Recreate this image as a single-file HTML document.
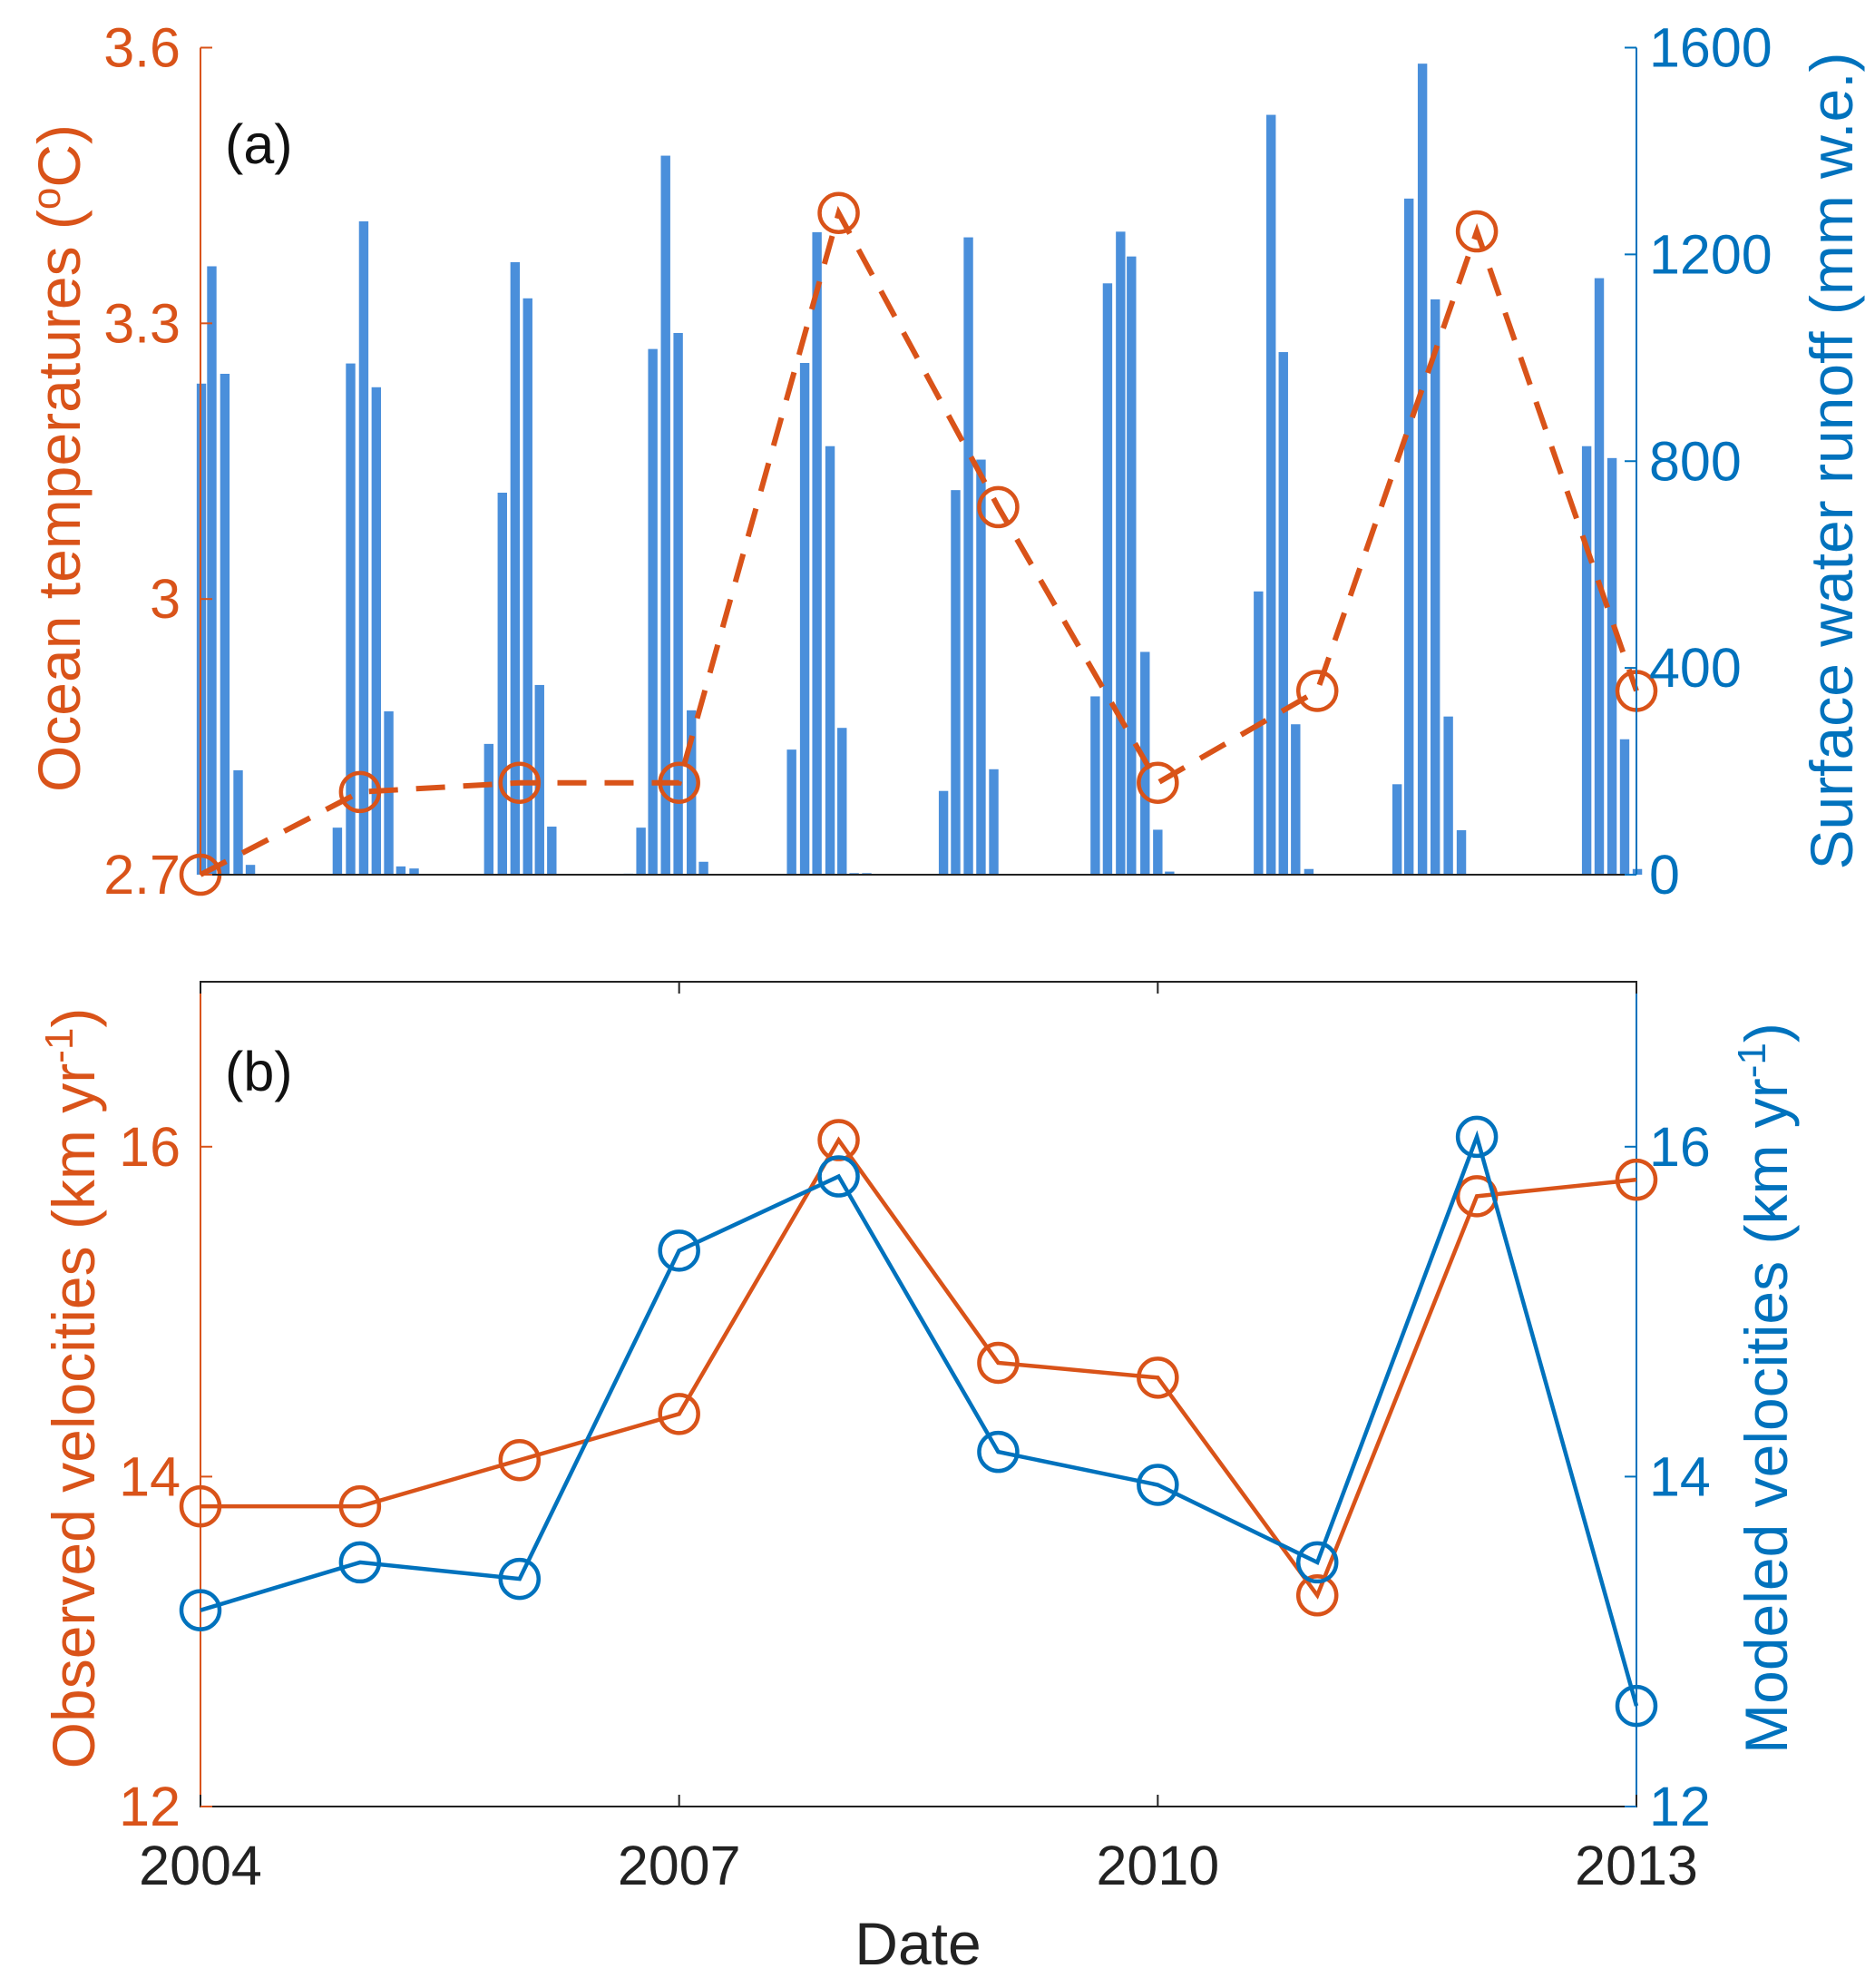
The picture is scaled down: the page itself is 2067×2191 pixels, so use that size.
<!DOCTYPE html>
<html><head><meta charset="utf-8"><style>
html,body{margin:0;padding:0;background:#fff;}
svg{display:block;font-family:"Liberation Sans",Arial,sans-serif;}
</style></head><body>
<svg id="chart" width="2067" height="2191" viewBox="0 0 2067 2191" xmlns="http://www.w3.org/2000/svg">
<g id="gtop"></g>
<g id="gbot"></g>
</svg>
<script>
const years = [2004,2005,2006,2007,2008,2009,2010,2011,2012,2013];
const oceanTemp = [2.70,2.79,2.80,2.80,3.42,3.10,2.80,2.90,3.40,2.90];
const runoffDates = [2004.006,2004.071,2004.153,2004.236,2004.313,
 2004.858,2004.941,2005.023,2005.102,2005.180,2005.256,2005.339,
 2005.807,2005.892,2005.972,2006.051,2006.125,2006.202,
 2006.682,2006.761,2006.835,2006.915,2006.994,2007.077,2007.153,
 2007.705,2007.787,2007.864,2007.946,2008.021,2008.097,2008.176,
 2008.657,2008.733,2008.813,2008.892,2008.972,
 2009.608,2009.685,2009.767,2009.835,2009.920,2010.000,2010.074,
 2010.631,2010.710,2010.787,2010.864,2010.947,
 2011.500,2011.574,2011.659,2011.739,2011.821,2011.903,
 2012.688,2012.767,2012.847,2012.926,2013.006];
const runoffValues = [950,1177,969,202,19,
 91,989,1264,943,316,16,12,
 253,739,1185,1115,367,93,
 2,91,1017,1391,1048,318,25,
 242,990,1243,829,284,3,3,
 162,744,1233,803,204,
 345,1144,1244,1196,431,87,6,
 548,1470,1011,291,11,
 175,1308,1569,1113,306,86,
 829,1154,806,262,11];
const observedVel = [13.82,13.82,14.10,14.38,16.04,14.69,14.60,13.28,15.70,15.80];
const modeledVel = [13.19,13.48,13.38,15.37,15.82,14.15,13.95,13.48,16.06,12.61];
const tempTicks = [2.7,3,3.3,3.6];
const tempTickLabels = ["2.7","3","3.3","3.6"];
const runoffTicks = [0,400,800,1200,1600];
const velTicks = [12,14,16];
const xTicks = [2004,2007,2010,2013];

const NS="http://www.w3.org/2000/svg";
const ORANGE="#D95319", BLUE="#0072BD", BAR="#4A8FDB";
const FS=61, TFS=66;
const L=221, R=1804;
const xS = y => L + (y-2004)/(2013-2004)*(R-L);
const A = {t:52.5, b:964};
const B = {t:1082, b:1991};
const tS = v => A.b - (v-2.7)/(3.6-2.7)*(A.b-A.t);
const rS = v => A.b - v/1600*(A.b-A.t);
const vS = v => B.b - (v-12)/(17-12)*(B.b-B.t);

function mk(parent, tag, attrs, text){
  const e=document.createElementNS(NS,tag);
  for(const k in attrs) e.setAttribute(k,attrs[k]);
  if(text!==undefined) e.textContent=text;
  parent.appendChild(e); return e;
}
const gTop=document.getElementById('gtop'), gBot=document.getElementById('gbot');

runoffDates.forEach((d,i)=>{
  const y=rS(runoffValues[i]);
  const b=mk(gTop,'rect',{x:xS(d)-5.2,y:y,width:10.4,height:A.b-y,fill:BAR});
  
  
});
const tpts=years.map((y,i)=>xS(y)+','+tS(oceanTemp[i])).join(' ');
const tl=mk(gTop,'polyline',{points:tpts,fill:'none',stroke:ORANGE,'stroke-width':6,'stroke-dasharray':'32 20'});


years.forEach((y,i)=>{
  const c=mk(gTop,'circle',{cx:xS(y),cy:tS(oceanTemp[i]),r:21,fill:'none',stroke:ORANGE,'stroke-width':4.5});
  
  
});
mk(gTop,'line',{x1:L,y1:A.t,x2:L,y2:A.b,stroke:ORANGE,'stroke-width':2});
mk(gTop,'line',{x1:R,y1:A.t,x2:R,y2:A.b,stroke:BLUE,'stroke-width':2});
mk(gTop,'line',{x1:L,y1:A.b,x2:R,y2:A.b,stroke:'#222','stroke-width':2});
tempTicks.forEach((t,i)=>{
  mk(gTop,'line',{x1:L,y1:tS(t),x2:L+13,y2:tS(t),stroke:ORANGE,'stroke-width':2});
  const lb=mk(gTop,'text',{x:199,y:tS(t)+21,'text-anchor':'end','font-size':FS,fill:ORANGE},tempTickLabels[i]);
  
  
});
runoffTicks.forEach(t=>{
  mk(gTop,'line',{x1:R,y1:rS(t),x2:R-13,y2:rS(t),stroke:BLUE,'stroke-width':2});
  const lb=mk(gTop,'text',{x:1818,y:rS(t)+21,'font-size':FS,fill:BLUE},String(t));
  
  
});
const la=mk(gTop,'text',{x:248,y:180,'font-size':FS,fill:'#111'},'(a)');
 
const yl1=mk(gTop,'text',{transform:'translate(88,505) rotate(-90)','text-anchor':'middle','font-size':TFS,fill:ORANGE});
yl1.innerHTML='Ocean temperatures (<tspan dy="-22" font-size="44">o</tspan><tspan dy="22">C)</tspan>';
 
const yr1=mk(gTop,'text',{transform:'translate(2042,508) rotate(-90)','text-anchor':'middle','font-size':TFS,fill:BLUE},'Surface water runoff (mm w.e.)');
 

mk(gBot,'rect',{x:L,y:B.t,width:R-L,height:B.b-B.t,fill:'none',stroke:'#222','stroke-width':2});
mk(gBot,'line',{x1:L,y1:B.t,x2:L,y2:B.b,stroke:ORANGE,'stroke-width':2});
mk(gBot,'line',{x1:R,y1:B.t,x2:R,y2:B.b,stroke:BLUE,'stroke-width':2});
xTicks.forEach(t=>{
  mk(gBot,'line',{x1:xS(t),y1:B.b,x2:xS(t),y2:B.b-13,stroke:'#222','stroke-width':2});
  mk(gBot,'line',{x1:xS(t),y1:B.t,x2:xS(t),y2:B.t+13,stroke:'#222','stroke-width':2});
  const lb=mk(gBot,'text',{x:xS(t),y:2077,'text-anchor':'middle','font-size':FS,fill:'#222'},String(t));
   
});
velTicks.forEach(t=>{
  mk(gBot,'line',{x1:L,y1:vS(t),x2:L+13,y2:vS(t),stroke:ORANGE,'stroke-width':2});
  mk(gBot,'line',{x1:R,y1:vS(t),x2:R-13,y2:vS(t),stroke:BLUE,'stroke-width':2});
  const a=mk(gBot,'text',{x:199,y:vS(t)+21,'text-anchor':'end','font-size':FS,fill:ORANGE},String(t));
   
  const b=mk(gBot,'text',{x:1818,y:vS(t)+21,'font-size':FS,fill:BLUE},String(t));
   
});
function series(vals,color,name){
  const pts=years.map((y,i)=>xS(y)+','+vS(vals[i])).join(' ');
  const pl=mk(gBot,'polyline',{points:pts,fill:'none',stroke:color,'stroke-width':4.5});
  
  
  years.forEach((y,i)=>{
    const c=mk(gBot,'circle',{cx:xS(y),cy:vS(vals[i]),r:21,fill:'none',stroke:color,'stroke-width':4.5});
    
    
  });
}
series(observedVel,ORANGE,'observed-velocity');
series(modeledVel,BLUE,'modeled-velocity');
const lbb=mk(gBot,'text',{x:248,y:1202,'font-size':FS,fill:'#111'},'(b)');
 
const yl2=mk(gBot,'text',{transform:'translate(104,1530) rotate(-90)','text-anchor':'middle','font-size':TFS,fill:ORANGE});
yl2.innerHTML='Observed velocities (km yr<tspan dy="-24" font-size="44">-1</tspan><tspan dy="24">)</tspan>';
 
const yr2=mk(gBot,'text',{transform:'translate(1970,1530) rotate(-90)','text-anchor':'middle','font-size':TFS,fill:BLUE});
yr2.innerHTML='Modeled velocities (km yr<tspan dy="-24" font-size="44">-1</tspan><tspan dy="24">)</tspan>';
 
const xt=mk(gBot,'text',{x:1012,y:2165,'text-anchor':'middle','font-size':TFS,fill:'#222'},'Date');
 
</script>
</body></html>
